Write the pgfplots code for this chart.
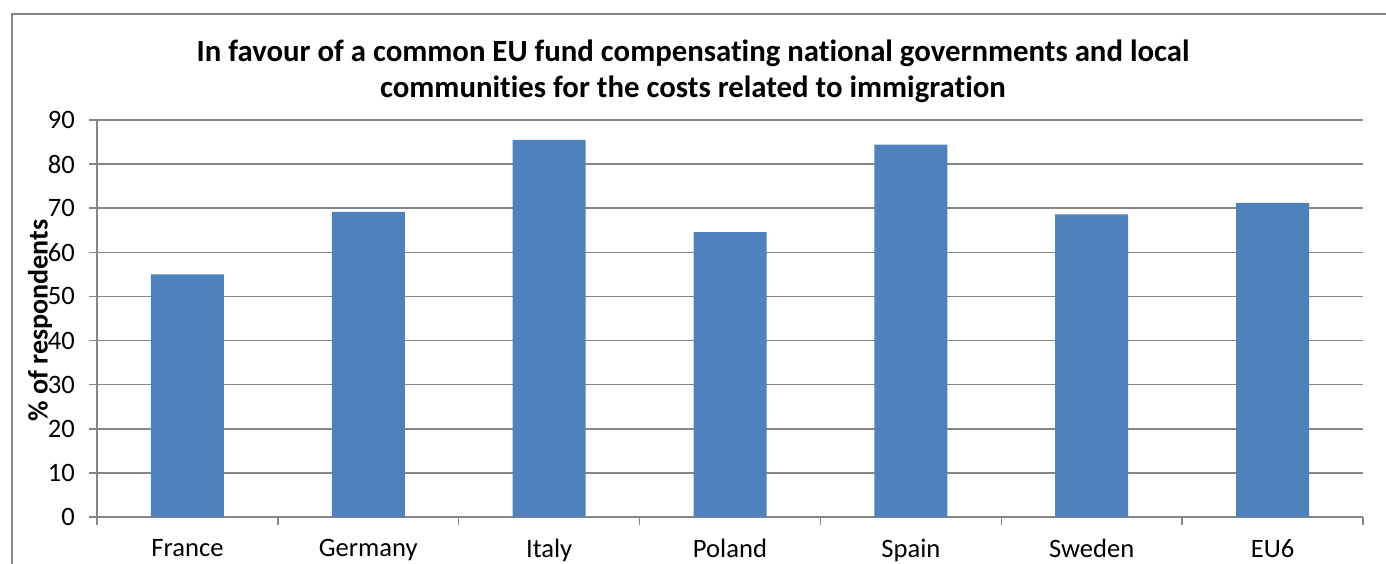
\documentclass[border=0pt]{standalone}
\usepackage{pgfplots}
\pgfplotsset{compat=1.18}
\usepackage{fontspec}
\setmainfont{Carlito}[Ligatures=NoCommon]
\definecolor{barblue}{HTML}{4F81BD}
\definecolor{gridgray}{HTML}{868686}

\begin{document}
\begin{tikzpicture}
\useasboundingbox (0,0) rectangle (693pt,281.5pt);
\clip (0,0) rectangle (693pt,281.5pt);
% chart frame, cut off on the right and at the bottom
\draw[gridgray, line width=1pt] (5.75pt,-10pt) -- (5.75pt,274.5pt) -- (720pt,274.5pt);
% title
\node[font=\fontsize{15.4}{18}\selectfont\bfseries, anchor=base] at (346.5pt,250.5pt)
  {In favour of a common EU fund compensating national governments and local};
\node[font=\fontsize{15.4}{18}\selectfont\bfseries, anchor=base] at (346.5pt,232.5pt)
  {communities for the costs related to immigration};
\begin{axis}[
  at={(48.5pt,23pt)}, anchor=south west,
  scale only axis, width=633pt, height=198.5pt,
  xmin=-0.5, xmax=6.5, ymin=0, ymax=90,
  ytick={0,10,...,90},
  xtick={-0.5,0.5,...,6.5}, xticklabels={,,,,,,,},
  extra x ticks={0,1,2,3,4,5,6},
  extra x tick labels={France,Germany,Italy,Poland,Spain,Sweden,EU6},
  extra x tick style={major tick length=0pt},
  axis lines*=left,
  ymajorgrids,
  grid style={gridgray, line width=0.75pt},
  axis line style={gridgray, line width=0.75pt},
  tick align=outside, major tick length=4pt,
  tick style={gridgray, line width=0.75pt},
  /pgf/number format/assume math mode=true,
  ticklabel style={font=\fontsize{13.3}{15}\selectfont, text=black},
  xticklabel style={yshift=-7.5pt},
  yticklabel style={xshift=-3.5pt},
  ylabel={\% of respondents},
  every axis y label/.style={at={(axis description cs:0,0.5)}, xshift=-28.5pt,
    yshift=-1pt, rotate=90, anchor=center, font=\fontsize{14}{16}\selectfont\bfseries},
]
\addplot[ybar, fill=barblue, draw=none, bar width=36.5pt]
  coordinates {(0,55.0) (1,69.2) (2,85.5) (3,64.6) (4,84.4) (5,68.6) (6,71.2)};
\end{axis}
\end{tikzpicture}
\end{document}
